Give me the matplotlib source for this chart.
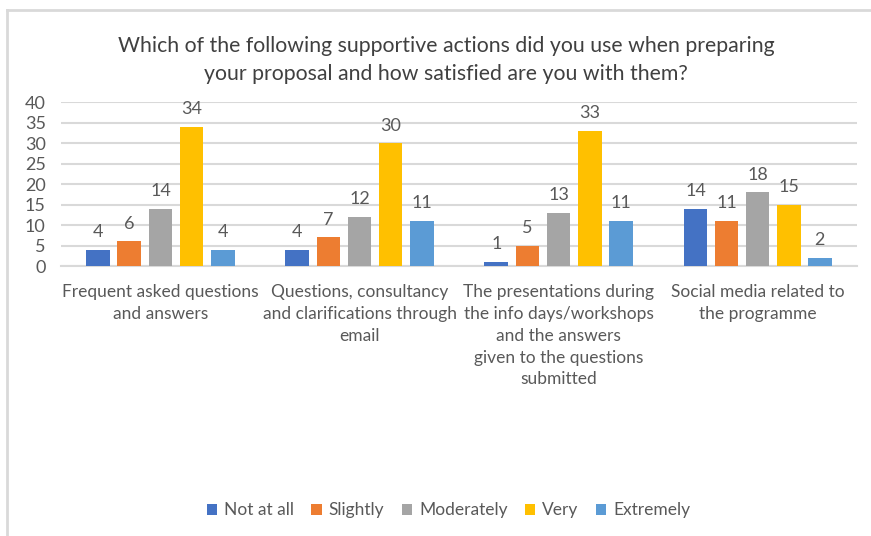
import matplotlib.pyplot as plt
import numpy as np
from matplotlib.lines import Line2D

plt.rcParams['font.family'] = ['Lato', 'DejaVu Sans']

categories = [
    "Frequent asked questions\nand answers",
    "Questions, consultancy\nand clarifications through\nemail",
    "The presentations during\nthe info days/workshops\nand the answers\ngiven to the questions\nsubmitted",
    "Social media related to\nthe programme",
]
levels = ["Not at all", "Slightly", "Moderately", "Very", "Extremely"]
not_at_all = [4, 4, 1, 14]
slightly = [6, 7, 5, 11]
moderately = [14, 12, 13, 18]
very = [34, 30, 33, 15]
extremely = [4, 11, 11, 2]
colors = ["#4472C4", "#ED7D31", "#A5A5A5", "#FFC000", "#5B9BD5"]

series = [not_at_all, slightly, moderately, very, extremely]
text_col = "#595959"
grid_col = "#D9D9D9"

fig = plt.figure(figsize=(8.71, 5.36), dpi=100)
ax = fig.add_axes([0.070, 0.5037, 0.914, 0.306])

x = np.arange(len(categories))
step = 0.156
width = 0.12
for i, (vals, name, c) in enumerate(zip(series, levels, colors)):
    pos = x + (i - 2) * step
    bars = ax.bar(pos, vals, width, color=c, label=name, zorder=3)
    for b, v in zip(bars, vals):
        ax.text(b.get_x() + b.get_width() / 2, v + 2.3, str(v),
                ha='center', va='bottom', fontsize=13, color=text_col)

ax.set_xlim(-0.5, len(categories) - 0.5)
ax.set_ylim(0, 40)
ax.set_yticks(range(0, 41, 5))
ax.yaxis.grid(True, color=grid_col, linewidth=1.5, zorder=0)
ax.set_axisbelow(True)
for s in ['top', 'right', 'left']:
    ax.spines[s].set_visible(False)
ax.spines['bottom'].set_color(grid_col)
ax.spines['bottom'].set_linewidth(1.5)
ax.tick_params(axis='both', length=0, labelsize=13, colors=text_col, labelcolor=text_col)
ax.tick_params(axis='y', pad=11)
ax.set_xticks(x)
ax.set_xticklabels(categories, fontsize=12.5, linespacing=1.45)
ax.tick_params(axis='x', pad=13)

fig.text(0.512, 0.888,
         "Which of the following supportive actions did you use when preparing\n"
         "your proposal and how satisfied are you with them?",
         ha='center', va='center', fontsize=15.3, color="#404040", linespacing=1.5)

fig.legend(loc='center', bbox_to_anchor=(0.515, 0.048), ncol=5, frameon=False,
           fontsize=12.5, handlelength=0.6, handleheight=0.6, handletextpad=0.4,
           columnspacing=1.0, labelcolor=text_col)

# outer chart border
fig.add_artist(Line2D([7 / 871, 7 / 871], [0, 1 - 10 / 536], transform=fig.transFigure,
                      color=grid_col, linewidth=2))
fig.add_artist(Line2D([7 / 871, 1], [1 - 10 / 536, 1 - 10 / 536], transform=fig.transFigure,
                      color=grid_col, linewidth=2))

fig.savefig("out.png", dpi=100)
